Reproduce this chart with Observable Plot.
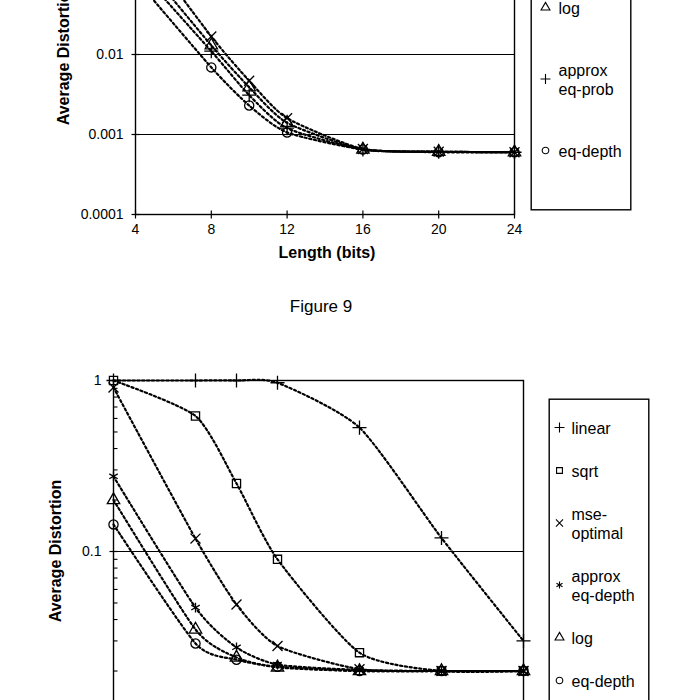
<!DOCTYPE html>
<html>
<head>
<meta charset="utf-8">
<script src="https://cdn.jsdelivr.net/npm/d3@7"></script>
<script src="https://cdn.jsdelivr.net/npm/@observablehq/plot@0.6"></script>
<style>
  html, body { margin: 0; padding: 0; background: #fff; }
  body { width: 700px; height: 700px; overflow: hidden; position: relative;
         font-family: "Liberation Sans", Arial, sans-serif; color: #000; }
  .abs { position: absolute; }
  .title { position: absolute; white-space: nowrap; transform: translate(-50%, -50%); font-weight: bold; font-size: 16px; }
  .rot { transform: translate(-50%, -50%) rotate(-90deg); }
  .cap { position: absolute; white-space: nowrap; transform: translate(-50%, -50%); font-size: 17px; }
</style>
</head>
<body>
<div id="topChart" class="abs" style="left:0px; top:-116px;"></div>
<div id="topLegend" class="abs" style="left:530px; top:-120px;"></div>
<div class="title rot" style="left:64px; top:54px;">Average Distortion</div>
<div class="title" style="left:327px; top:253px;">Length (bits)</div>
<div class="cap" style="left:321px; top:307px;">Figure 9</div>

<div id="bottomChart" class="abs" style="left:0px; top:370px;"></div>
<div id="bottomLegend" class="abs" style="left:548px; top:398px;"></div>
<div class="title rot" style="left:56px; top:551px;">Average Distortion</div>

<script>
// ---------- shared x values ----------
const bits = [4, 8, 10, 12, 16, 20, 24];
const xTicks = [4, 8, 12, 16, 20, 24];

// ---------- Figure 9 (top, partially visible) ----------
const fig9Series = ["mse-optimal", "log", "approx\neq-prob", "eq-depth"];
const fig9Symbols = ["times", "triangle", "plus", "circle"];
const fig9MseOptimal  = [0.31,  0.0168, 0.0047, 0.0016,  0.00066, 0.00061, 0.0006];
const fig9Log         = [0.18,  0.013,  0.0039, 0.0014,  0.00065, 0.00061, 0.0006];
const fig9ApproxEqProb= [0.126, 0.011,  0.0031, 0.0012,  0.00065, 0.00061, 0.0006];
const fig9EqDepth     = [0.088, 0.0069, 0.0023, 0.00106, 0.00065, 0.0006,  0.0006];
const fig9YTicks = [0.0001, 0.001, 0.01];
const fig9Grid = [0.001, 0.01, 0.1];

// ---------- Figure 10 (bottom, partially visible) ----------
const fig10Series = ["linear", "sqrt", "mse-\noptimal", "approx\neq-depth", "log", "eq-depth"];
const fig10Symbols = ["plus", "square", "times", "asterisk", "triangle", "circle"];
const fig10Linear        = [1,     1,     1,      0.97,   0.53,   0.12,  0.030];
const fig10Sqrt          = [1,     0.62,  0.25,   0.090,  0.0256, 0.020, 0.020];
const fig10MseOptimal    = [0.91,  0.119, 0.049,  0.028,  0.0205, 0.020, 0.020];
const fig10ApproxEqDepth = [0.275, 0.047, 0.0275, 0.0218, 0.0203, 0.020, 0.020];
const fig10Log           = [0.20,  0.035, 0.024,  0.021,  0.020,  0.020, 0.020];
const fig10EqDepth       = [0.144, 0.029, 0.0233, 0.0212, 0.020,  0.020, 0.020];
const fig10YTicks = [0.1, 1];
const fig10MinorTicks = [0.02, 0.03, 0.04, 0.05, 0.06, 0.07, 0.08, 0.09,
                         0.2, 0.3, 0.4, 0.5, 0.6, 0.7, 0.8, 0.9];
const fig10Grid = [0.1];

// ---------- helpers ----------
function toRows(names, arrays) {
  return names.flatMap((name, k) => bits.map((b, i) => ({series: name, bits: b, value: arrays[k][i]})));
}
const tickCrossH = {draw(c) { c.moveTo(-4, 0); c.lineTo(4, 0); }};
const tickCrossV = {draw(c) { c.moveTo(0, -4); c.lineTo(0, 4); }};
const tickInner  = {draw(c) { c.moveTo(0, 0); c.lineTo(4, 0); }};
const fontStyle = {fontFamily: "'Liberation Sans', Arial, sans-serif", fontSize: "14px", color: "black", background: "white", overflow: "visible"};

function chart({data, names, symbols, yDomain, yTicks, grid, minor, width, height, marginLeft, marginBottom}) {
  const marks = [
    Plot.ruleY(grid, {stroke: "black", strokeWidth: 1.2}),
    Plot.frame({stroke: "black", strokeWidth: 1.4}),
    Plot.line(data, {x: "bits", y: "value", z: "series", curve: "cardinal", tension: 0.35,
      stroke: "black", strokeWidth: 2.2, strokeDasharray: "2.2,2.6"}),
    Plot.dot(data, {x: "bits", y: "value", symbol: "series", r: 4.6,
      stroke: "black", strokeWidth: 1.3, fill: "none"}),
    Plot.axisX(xTicks, {tickSize: 0, tickPadding: 10, fontSize: 14, label: null, tickFormat: d => String(d)}),
    Plot.axisY(yTicks, {tickSize: 0, tickPadding: 12, fontSize: 14, label: null, tickFormat: d => String(d)}),
    Plot.dot(yTicks, {y: d => d, frameAnchor: "left", symbol: tickCrossH, stroke: "black", strokeWidth: 1.2}),
    Plot.dot(xTicks, {x: d => d, frameAnchor: "bottom", symbol: tickCrossV, stroke: "black", strokeWidth: 1.2})
  ];
  if (minor) marks.push(Plot.dot(minor, {y: d => d, frameAnchor: "left", symbol: tickInner, stroke: "black", strokeWidth: 1.1}));
  return Plot.plot({
    width, height, marginLeft, marginRight: 10, marginTop: 10, marginBottom,
    x: {domain: [4, 24]},
    y: {type: "log", domain: yDomain},
    symbol: {domain: names, range: symbols},
    style: fontStyle,
    marks
  });
}

function legend({names, symbols, width, height, firstY, lineH, gap, symX, textX}) {
  // stack entries vertically according to their number of text lines
  const entries = [];
  let y = firstY;
  names.forEach((name, i) => {
    const lines = name.split("\n").length;
    if (i > 0) {
      const prevLines = names[i - 1].split("\n").length;
      y += prevLines * lineH / 2 + gap + lines * lineH / 2;
    }
    entries.push({name, symbol: symbols[i], y});
  });
  return Plot.plot({
    width, height, margin: 0,
    x: {type: "identity", axis: null}, y: {type: "identity", axis: null},
    style: fontStyle,
    marks: [
      Plot.frame({stroke: "black", strokeWidth: 1.4, inset: 0.7}),
      Plot.dot(entries, {x: () => symX, y: "y", symbol: d => d.symbol, r: 3.3, stroke: "black", strokeWidth: 1.1, fill: "none"}),
      Plot.text(entries, {x: () => textX, y: "y", text: "name", textAnchor: "start", lineAnchor: "middle",
        fontSize: 16, lineHeight: lineH / 16, fill: "black"})
    ]
  });
}

// ---------- render ----------
const fig9Rows = toRows(fig9Series, [fig9MseOptimal, fig9Log, fig9ApproxEqProb, fig9EqDepth]);
const fig10Rows = toRows(fig10Series, [fig10Linear, fig10Sqrt, fig10MseOptimal, fig10ApproxEqDepth, fig10Log, fig10EqDepth]);

document.getElementById("topChart").append(chart({
  data: fig9Rows, names: fig9Series, symbols: fig9Symbols,
  yDomain: [0.0001, 1], yTicks: fig9YTicks, grid: fig9Grid, minor: null,
  width: 524, height: 390, marginLeft: 135, marginBottom: 60
}));

document.getElementById("bottomChart").append(chart({
  data: fig10Rows, names: fig10Series, symbols: fig10Symbols,
  yDomain: [0.01, 1], yTicks: fig10YTicks, grid: fig10Grid, minor: fig10MinorTicks,
  width: 533, height: 402, marginLeft: 113, marginBottom: 50
}));

document.getElementById("topLegend").append(legend({
  names: fig9Series, symbols: fig9Symbols, width: 101, height: 330,
  firstY: 65, lineH: 19, gap: 43, symX: 15, textX: 28
}));

document.getElementById("bottomLegend").append(legend({
  names: fig10Series, symbols: fig10Symbols, width: 101, height: 330,
  firstY: 29, lineH: 19, gap: 24, symX: 11, textX: 23
}));
</script>
</body>
</html>
